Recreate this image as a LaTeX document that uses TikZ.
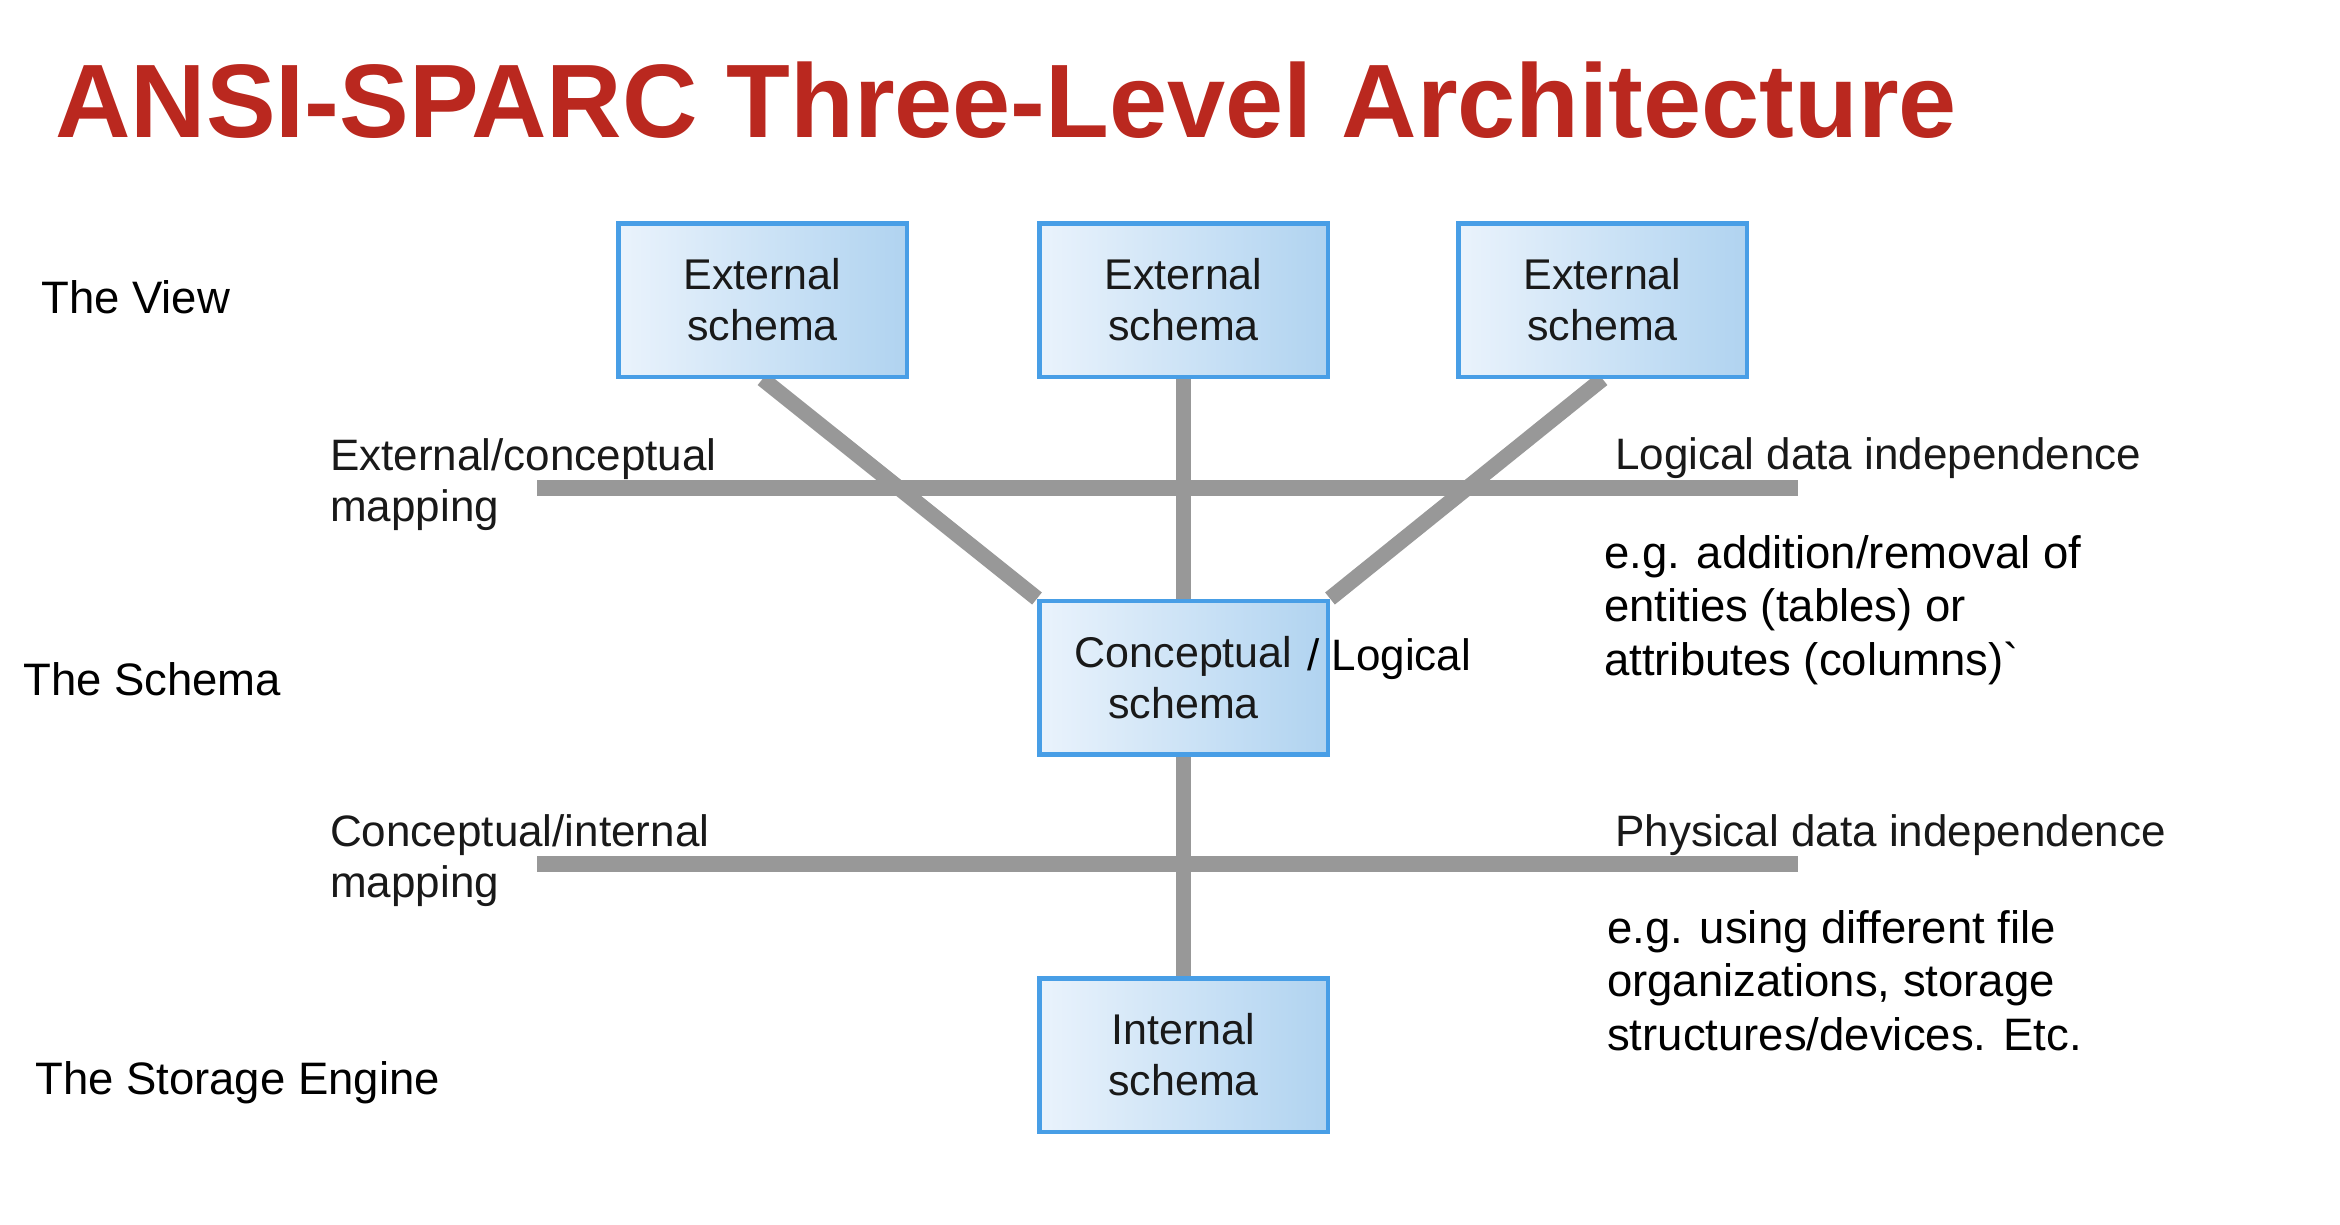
\documentclass[tikz,border=0pt]{standalone}
\usepackage{fontspec}
\setmainfont{Liberation Sans}
\newfontfamily\nomapfont{Liberation Sans}[Ligatures=TeXOff]
\usetikzlibrary{backgrounds}
\definecolor{titlered}{RGB}{186,40,31}
\definecolor{linegray}{RGB}{152,152,152}
\definecolor{boxblue}{RGB}{72,158,230}
\definecolor{fillL}{RGB}{234,243,252}
\definecolor{fillR}{RGB}{176,211,240}
\definecolor{diagtext}{RGB}{25,25,25}
\tikzset{
  schemabox/.style={draw=boxblue, line width=4.5pt, left color=fillL, right color=fillR,
    minimum width=288.5pt, minimum height=153.5pt, inner sep=0pt, align=center,
    text=diagtext, font=\fontsize{43}{51}\selectfont},
  link/.style={draw=linegray, line width=15.5pt},
  levellabel/.style={anchor=base west, inner sep=0pt, font=\fontsize{45.5}{54}\selectfont, text=black},
  maplabel/.style={anchor=base west, inner sep=0pt, align=left, font=\fontsize{44}{51}\selectfont, text=diagtext},
  note/.style={anchor=base west, inner sep=0pt, align=left, font=\fontsize{45.5}{53.5}\selectfont, text=black},
}
\begin{document}
\begin{tikzpicture}[x=1pt, y=-1pt]
\useasboundingbox (0,0) rectangle (2340,1224);

% title
\node[anchor=base west, inner sep=0pt, text=titlered] (title) at (55,137)
  {\resizebox{1902pt}{!}{\fontsize{105}{120}\selectfont\bfseries ANSI-SPARC Three-Level Architecture}};

% level labels
\node[levellabel] (view) at (41,313) {The View};
\node[levellabel] (schemalbl) at (23,695) {The Schema};
\node[levellabel] (storage) at (35,1094) {The Storage Engine};

% boxes
\node[schemabox] (ext1) at (762.5,300) {External\\schema};
\node[schemabox] (ext2) at (1183.5,300) {External\\schema};
\node[schemabox] (ext3) at (1602.5,300) {External\\schema};
\node[schemabox] (conc) at (1183.5,677.5) {Conceptual\\schema};
\node[schemabox] (int) at (1183.5,1055) {Internal\\schema};

\node[anchor=base west, inner sep=0pt, font=\fontsize{44}{51}\selectfont, text=black] (logical) at (1307,670) {/ Logical};

% mapping labels (base anchor = last line's baseline)
\node[maplabel] (map1) at (330,521) {External/conceptual\\mapping};
\node[maplabel] (map2) at (330,897) {Conceptual/internal\\mapping};
\node[maplabel] (ldi) at (1615,469) {Logical data independence};
\node[maplabel] (pdi) at (1615,846) {Physical data independence};

% notes (base anchor = last line's baseline)
\node[note] (note1) at (1604,675) {e.g. addition/removal of\\entities (tables) or\\attributes (columns){\nomapfont`}};
\node[note] (note2) at (1607,1050) {e.g. using different file\\organizations, storage\\structures/devices. Etc.};

% mapping line end points
\coordinate (m1l) at (537,488);
\coordinate (m1r) at (1798,488);
\coordinate (m2l) at (537,864);
\coordinate (m2r) at (1798,864);

\begin{scope}[on background layer]
  \fill[white] (0,0) rectangle (2340,1224);
  \draw[link] (m1l) -- (m1r);
  \draw[link] (m2l) -- (m2r);
  \draw[link] (ext1.south) -- (conc.north west);
  \draw[link] (ext2.south) -- (conc.north);
  \draw[link] (ext3.south) -- (conc.north east);
  \draw[link] (conc.south) -- (int.north);
\end{scope}
\end{tikzpicture}
\end{document}
